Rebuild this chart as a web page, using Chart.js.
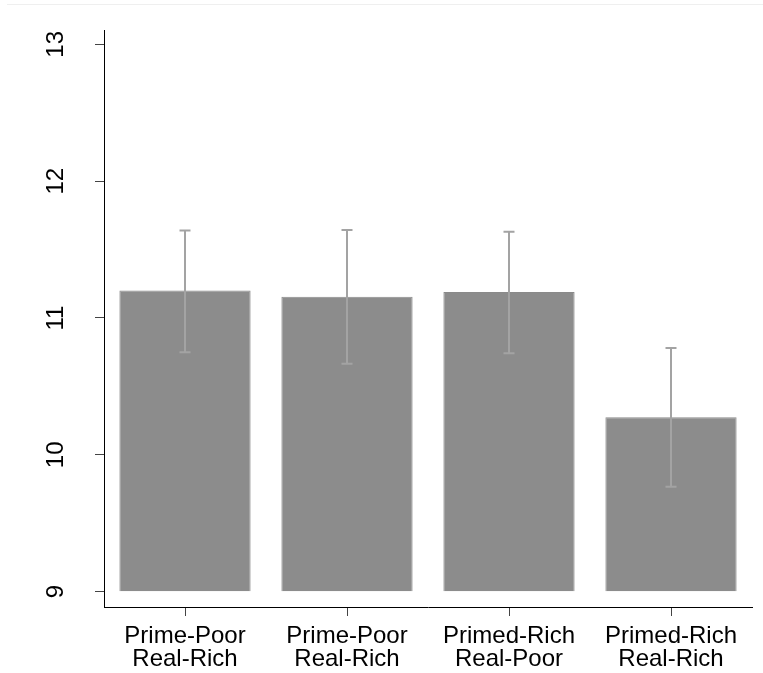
<!DOCTYPE html>
<html>
<head>
<meta charset="utf-8">
<script src="https://cdn.jsdelivr.net/npm/chart.js@4"></script>
<style>
  html, body { margin: 0; padding: 0; background: #ffffff; }
  #wrap { position: relative; width: 763px; height: 673px; }
  #topline { position: absolute; left: 7px; right: 0; top: 4px; height: 0; border-top: 1px solid #efefef; }
  canvas { display: block; }
</style>
</head>
<body>
<div id="wrap">
  <div id="topline"></div>
  <canvas id="c" width="763" height="673"></canvas>
</div>
<script>
const categories = [
  ['Prime-Poor', 'Real-Rich'],
  ['Prime-Poor', 'Real-Rich'],
  ['Primed-Rich', 'Real-Poor'],
  ['Primed-Rich', 'Real-Rich']
];
const means = [11.20, 11.156, 11.19, 10.274];
const errLow = [10.75, 10.666, 10.742, 9.767];
const errHigh = [11.64, 11.643, 11.63, 10.781];
const yTicks = [9, 10, 11, 12, 13];
const baseValue = 9;

const FONT = "'Liberation Sans', Arial, Helvetica, sans-serif";

const errorBarPlugin = {
  id: 'errorBars',
  afterDatasetsDraw(chart) {
    const ctx = chart.ctx;
    const meta = chart.getDatasetMeta(0);
    const y = chart.scales.y;
    ctx.save();
    ctx.strokeStyle = '#a3a3a3';
    ctx.lineWidth = 2;
    meta.data.forEach((bar, i) => {
      const x = Math.round(bar.x);
      const yHi = y.getPixelForValue(errHigh[i]);
      const yLo = y.getPixelForValue(errLow[i]);
      const cap = 5.5;
      ctx.beginPath();
      ctx.moveTo(x, yHi);
      ctx.lineTo(x, yLo);
      ctx.moveTo(x - cap, yHi);
      ctx.lineTo(x + cap, yHi);
      ctx.moveTo(x - cap, yLo);
      ctx.lineTo(x + cap, yLo);
      ctx.stroke();
    });
    ctx.restore();
  }
};

new Chart(document.getElementById('c'), {
  type: 'bar',
  data: {
    labels: categories,
    datasets: [{
      data: means,
      base: baseValue,
      backgroundColor: '#8c8c8c',
      borderColor: '#8a8a8a',
      borderWidth: 1,
      barPercentage: 0.81,
      categoryPercentage: 1.0
    }]
  },
  options: {
    responsive: false,
    animation: false,
    devicePixelRatio: 1,
    layout: { padding: { left: 0, right: 11, top: 30, bottom: 0 } },
    plugins: {
      legend: { display: false },
      tooltip: { enabled: false }
    },
    scales: {
      x: {
        type: 'category',
        offset: true,
        afterFit(scale) { scale.height = 66; scale.paddingLeft = 0; scale.paddingRight = 0; },
        grid: { display: true, drawOnChartArea: false, drawTicks: true, tickLength: 9, color: '#444', offset: false },
        border: { display: true, color: '#000', width: 1 },
        ticks: {
          color: '#000',
          padding: 9,
          maxRotation: 0,
          minRotation: 0,
          font: { family: FONT, size: 24, lineHeight: 0.95 }
        }
      },
      y: {
        min: 8.888,
        max: 13.1045,
        afterFit(scale) { scale.width = 104; scale.paddingTop = 0; scale.paddingBottom = 0; },
        afterBuildTicks(scale) { scale.ticks = yTicks.map(v => ({ value: v })); },
        grid: { display: true, drawOnChartArea: false, drawTicks: true, tickLength: 9, color: '#444' },
        border: { display: true, color: '#000', width: 1 },
        ticks: {
          color: '#000',
          padding: 25,
          minRotation: 90,
          maxRotation: 90,
          crossAlign: 'center',
          font: { family: FONT, size: 24 },
          callback: (v) => String(v)
        }
      }
    }
  },
  plugins: [errorBarPlugin]
});
</script>
</body>
</html>
